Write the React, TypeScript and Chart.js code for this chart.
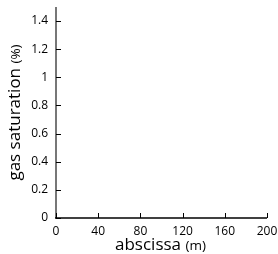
import React, { useEffect, useRef } from "react";
import { Chart, registerables } from "chart.js";

Chart.register(...registerables);

const xTicks = [0, 40, 80, 120, 160, 200];
const yTicks = [0, 0.2, 0.4, 0.6, 0.8, 1, 1.2, 1.4];
const xRange = [0, 200];
const yRange = [0, 1.5];
const seriesX: number[] = [];
const seriesY: number[] = [];
const xTitle = ["abscissa", "(m)"];
const yTitle = ["gas saturation", "(%)"];

const FONT = "'Open Sans', sans-serif";

const axesPlugin = {
  id: "customAxes",
  afterDraw(chart: any) {
    const { ctx, chartArea, scales } = chart;
    const xs = scales.x;
    const ys = scales.y;
    ctx.save();
    // y axis line
    ctx.strokeStyle = "#777";
    ctx.lineWidth = 2;
    ctx.beginPath();
    ctx.moveTo(chartArea.left, chartArea.top);
    ctx.lineTo(chartArea.left, chartArea.bottom);
    ctx.stroke();
    // x axis line
    ctx.strokeStyle = "#000";
    ctx.lineWidth = 1.5;
    ctx.beginPath();
    ctx.moveTo(chartArea.left - 1, chartArea.bottom);
    ctx.lineTo(chartArea.right, chartArea.bottom);
    ctx.stroke();
    // ticks
    ctx.lineWidth = 1;
    ctx.strokeStyle = "#000";
    for (const v of yTicks) {
      const py = Math.round(ys.getPixelForValue(v)) + 0.5;
      ctx.beginPath();
      ctx.moveTo(chartArea.left, py);
      ctx.lineTo(chartArea.left + 5, py);
      ctx.stroke();
    }
    for (const v of xTicks) {
      const px = Math.round(xs.getPixelForValue(v)) + 0.5;
      ctx.beginPath();
      ctx.moveTo(px, chartArea.bottom);
      ctx.lineTo(px, chartArea.bottom - 5);
      ctx.stroke();
    }
    // titles
    ctx.fillStyle = "#000";
    ctx.textBaseline = "alphabetic";
    ctx.textAlign = "left";
    const big = `17px ${FONT}`;
    const small = `13.5px ${FONT}`;
    // x title
    ctx.font = big;
    const w1 = ctx.measureText(xTitle[0] + " ").width;
    const sx = 115;
    const ty = 250;
    ctx.fillText(xTitle[0] + " ", sx, ty);
    ctx.font = small;
    ctx.fillText(xTitle[1], sx + w1, ty);
    // y title
    ctx.font = big;
    const h1 = ctx.measureText(yTitle[0] + " ").width;
    ctx.font = small;
    const h2 = ctx.measureText(yTitle[1]).width;
    const cy = (chartArea.top + chartArea.bottom) / 2;
    ctx.translate(20, cy);
    ctx.rotate(-Math.PI / 2);
    const sy = -(h1 + h2) / 2;
    ctx.font = big;
    ctx.fillText(yTitle[0] + " ", sy, 0);
    ctx.font = small;
    ctx.fillText(yTitle[1], sy + h1, 0);
    ctx.restore();
  },
};

export default function App() {
  const ref = useRef<HTMLCanvasElement>(null);
  useEffect(() => {
    if (!ref.current) return;
    const chart = new Chart(ref.current, {
      type: "scatter",
      data: {
        datasets: [
          {
            data: seriesX.map((x, i) => ({ x, y: seriesY[i] })),
            borderColor: "#000",
            backgroundColor: "#000",
          },
        ],
      },
      options: {
        animation: false,
        responsive: false,
        maintainAspectRatio: false,
        layout: { padding: { top: 7, right: 11, left: 0, bottom: 0 } },
        plugins: { legend: { display: false }, tooltip: { enabled: false } },
        scales: {
          x: {
            type: "linear",
            min: xRange[0],
            max: xRange[1],
            afterBuildTicks: (s: any) => {
              s.ticks = xTicks.map((v) => ({ value: v }));
            },
            grid: { display: false, drawTicks: false },
            border: { display: false },
            ticks: {
              color: "#000",
              font: { family: FONT, size: 12 },
              padding: 6,
              maxRotation: 0,
              callback: (v: any) => String(v),
            },
            afterFit: (s: any) => {
              s.height = 36;
              s.paddingLeft = 0;
              s.paddingRight = 0;
            },
          },
          y: {
            type: "linear",
            min: yRange[0],
            max: yRange[1],
            afterBuildTicks: (s: any) => {
              s.ticks = yTicks.map((v) => ({ value: v }));
            },
            grid: { display: false, drawTicks: false },
            border: { display: false },
            ticks: {
              color: "#000",
              font: { family: FONT, size: 12 },
              padding: 8,
              callback: (v: any) => String(Math.round(v * 10) / 10),
            },
            afterFit: (s: any) => {
              s.width = 56;
              s.paddingTop = 0;
              s.paddingBottom = 0;
            },
          },
        },
      },
      plugins: [axesPlugin],
    });
    return () => chart.destroy();
  }, []);
  return (
    <div style={{ position: "fixed", left: 0, top: 0, width: 278, height: 254, background: "#fff" }}>
      <canvas ref={ref} width={278} height={254} style={{ width: 278, height: 254 }} />
    </div>
  );
}
